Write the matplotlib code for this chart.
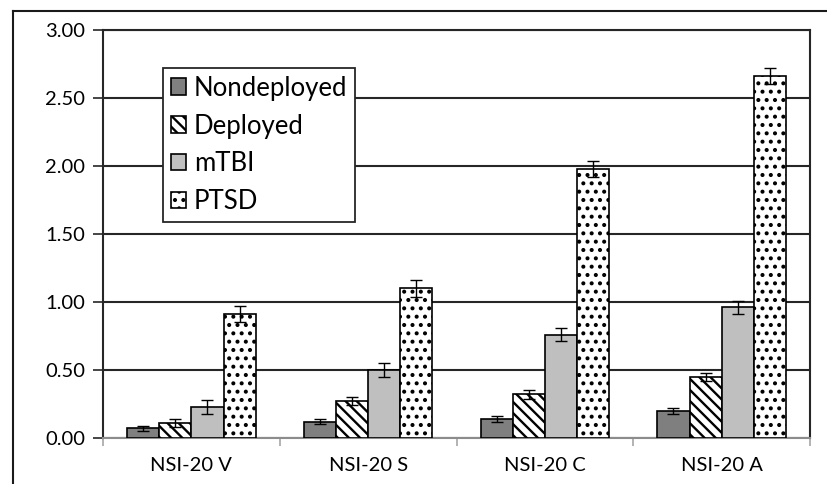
import numpy as np
import matplotlib
matplotlib.use("Agg")
import matplotlib.pyplot as plt
from matplotlib.lines import Line2D

plt.rcParams["font.family"] = ["Lato", "DejaVu Sans"]
plt.rcParams["hatch.linewidth"] = 1.7

# ── Data ──────────────────────────────────────────────────────
categories = ["NSI-20 V", "NSI-20 S", "NSI-20 C", "NSI-20 A"]
groups = ["Nondeployed", "Deployed", "mTBI", "PTSD"]

nondeployed = [0.07, 0.12, 0.14, 0.20]
deployed    = [0.11, 0.27, 0.32, 0.45]
mtbi        = [0.23, 0.50, 0.76, 0.96]
ptsd        = [0.91, 1.10, 1.98, 2.66]

nondeployed_err = [0.02, 0.02, 0.02, 0.02]
deployed_err    = [0.03, 0.03, 0.03, 0.03]
mtbi_err        = [0.05, 0.05, 0.05, 0.05]
ptsd_err        = [0.06, 0.06, 0.06, 0.06]

y_ticks = [0.0, 0.5, 1.0, 1.5, 2.0, 2.5, 3.0]

# ── Styles ────────────────────────────────────────────────────
series = [
    (nondeployed, nondeployed_err, "#7f7f7f", None),
    (deployed,    deployed_err,    "white",   "\\\\\\"),
    (mtbi,        mtbi_err,        "#bfbfbf", None),
    (ptsd,        ptsd_err,        "white",   ".."),
]

fig = plt.figure(figsize=(8.28, 4.84), dpi=100)
ax = fig.add_axes([0.1244, 0.095, 0.8539, 0.843])

n = len(groups)
width = 1.0 / (n + 1.5)
x = np.arange(len(categories))

handles = []
for i, (vals, errs, color, hatch) in enumerate(series):
    pos = x + (i - (n - 1) / 2) * width
    b = ax.bar(pos, vals, width, color=color, edgecolor="black",
               hatch=hatch, linewidth=1.2, zorder=3, label=groups[i])
    ax.errorbar(pos, vals, yerr=errs, fmt="none", ecolor="black",
                elinewidth=1.0, capsize=4, capthick=1.0, zorder=4)
    handles.append(b)

ax.set_xlim(-0.5, len(categories) - 0.5)
ax.set_ylim(0, 3.0)
ax.set_yticks(y_ticks)
ax.set_yticklabels([f"{v:.2f}" for v in y_ticks], fontsize=14.5)
ax.yaxis.grid(True, color="#262626", linewidth=1.5, zorder=0)
ax.set_axisbelow(True)

ax.set_xticks(x)
ax.set_xticklabels(categories, fontsize=14.5)
ax.tick_params(axis="x", which="major", length=0, pad=14)
ax.set_xticks(np.arange(len(categories) + 1) - 0.5, minor=True)
ax.tick_params(axis="x", which="minor", length=6, color="#a6a6a6", width=1.2)
ax.tick_params(axis="y", length=7, width=1.2, color="#262626", pad=6)

for side in ["left", "top", "right"]:
    ax.spines[side].set_color("#262626")
    ax.spines[side].set_linewidth(1.5)
ax.spines["bottom"].set_color("#8c8c8c")
ax.spines["bottom"].set_linewidth(1.5)

leg = ax.legend(handles=handles, loc="upper left",
                bbox_to_anchor=(0.085, 0.907), fontsize=18.5,
                frameon=True, fancybox=False, edgecolor="#262626",
                framealpha=1.0, handlelength=0.6, handleheight=0.6,
                handletextpad=0.3, labelspacing=0.5,
                borderpad=0.3, borderaxespad=0)
leg.get_frame().set_linewidth(1.3)

# outer chart frame
fig.add_artist(Line2D([13 / 828, 1.0], [1 - 11 / 484, 1 - 11 / 484],
                      transform=fig.transFigure, color="#1a1a1a", linewidth=1.5))
fig.add_artist(Line2D([13 / 828, 13 / 828], [0.0, 1 - 11 / 484],
                      transform=fig.transFigure, color="#1a1a1a", linewidth=1.5))

fig.savefig("out.png", dpi=100, facecolor="white")
